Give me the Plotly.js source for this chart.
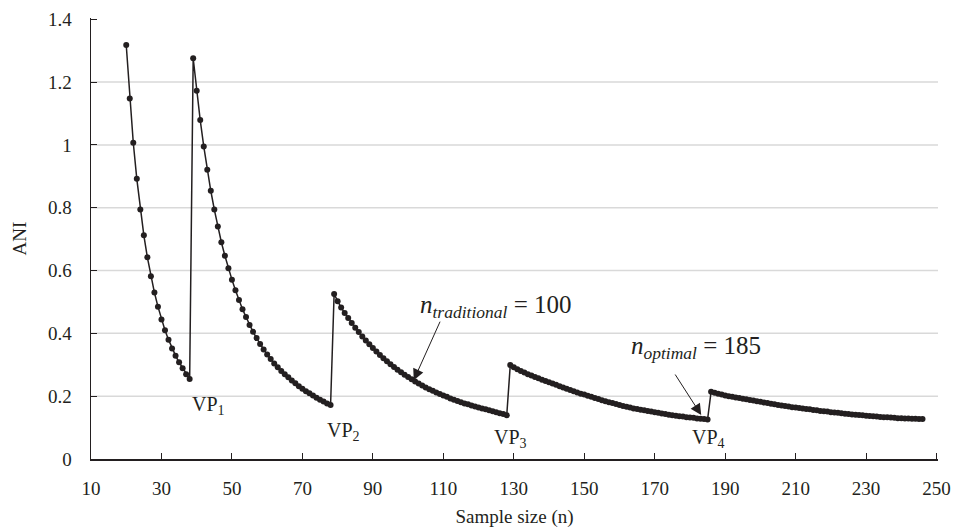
<!DOCTYPE html>
<html>
<head>
<meta charset="utf-8">
<script src="https://cdn.plot.ly/plotly-3.0.1.min.js"></script>
<style>html,body{margin:0;padding:0;background:#fff;}#chart{width:954px;height:528px;}</style>
</head>
<body>
<div id="chart"></div>
<script>
// ---- data ----
const seg1N = [20,21,22,23,24,25,26,27,28,29,30,31,32,33,34,35,36,37,38];
const seg1ANI = [1.318,1.148,1.007,0.892,0.794,0.712,0.642,0.582,0.530,0.485,0.444,0.410,0.380,0.352,0.329,0.308,0.289,0.270,0.255];

const seg2N = [39,40,41,42,43,44,45,46,47,48,49,50,51,52,53,54,55,56,57,58,59,60,61,62,63,64,65,66,67,68,69,70,71,72,73,74,75,76,77,78];
const seg2ANI = [1.276,1.172,1.079,0.995,0.921,0.854,0.794,0.740,0.690,0.647,0.607,0.571,0.537,0.506,0.477,0.452,0.427,0.405,0.385,0.366,0.349,0.333,0.318,0.304,0.292,0.280,0.270,0.260,0.250,0.241,0.232,0.224,0.216,0.209,0.202,0.195,0.189,0.183,0.177,0.172];

const seg3N = [79,80,81,82,83,84,85,86,87,88,89,90,91,92,93,94,95,96,97,98,99,100,101,102,103,104,105,106,107,108,109,110,111,112,113,114,115,116,117,118,119,120,121,122,123,124,125,126,127,128];
const seg3ANI = [0.525,0.502,0.482,0.465,0.449,0.433,0.418,0.404,0.390,0.377,0.365,0.353,0.342,0.331,0.321,0.311,0.302,0.293,0.284,0.276,0.268,0.261,0.254,0.247,0.240,0.234,0.228,0.222,0.217,0.212,0.207,0.202,0.198,0.193,0.189,0.185,0.181,0.177,0.174,0.170,0.167,0.164,0.161,0.158,0.155,0.152,0.149,0.146,0.143,0.139];

const seg4N = [129,130,131,132,133,134,135,136,137,138,139,140,141,142,143,144,145,146,147,148,149,150,151,152,153,154,155,156,157,158,159,160,161,162,163,164,165,166,167,168,169,170,171,172,173,174,175,176,177,178,179,180,181,182,183,184,185];
const seg4ANI = [0.299,0.292,0.286,0.280,0.275,0.270,0.266,0.261,0.257,0.252,0.248,0.244,0.240,0.236,0.232,0.228,0.224,0.220,0.216,0.212,0.208,0.205,0.201,0.198,0.194,0.191,0.187,0.184,0.181,0.178,0.175,0.172,0.169,0.166,0.164,0.161,0.159,0.157,0.155,0.153,0.151,0.149,0.147,0.145,0.143,0.141,0.139,0.138,0.136,0.135,0.133,0.132,0.131,0.129,0.128,0.127,0.126];

const seg5N = [186,187,188,189,190,191,192,193,194,195,196,197,198,199,200,201,202,203,204,205,206,207,208,209,210,211,212,213,214,215,216,217,218,219,220,221,222,223,224,225,226,227,228,229,230,231,232,233,234,235,236,237,238,239,240,241,242,243,244,245,246];
const seg5ANI = [0.214,0.211,0.208,0.205,0.202,0.200,0.198,0.196,0.194,0.192,0.190,0.188,0.186,0.184,0.182,0.180,0.178,0.176,0.174,0.172,0.170,0.169,0.167,0.165,0.164,0.162,0.161,0.159,0.158,0.156,0.155,0.153,0.152,0.151,0.149,0.148,0.147,0.146,0.144,0.143,0.142,0.141,0.140,0.139,0.138,0.137,0.136,0.135,0.134,0.133,0.133,0.132,0.131,0.130,0.130,0.129,0.129,0.128,0.128,0.127,0.127];

const xTickVals = [10,30,50,70,90,110,130,150,170,190,210,230,250];
const yTickVals = [0,0.2,0.4,0.6,0.8,1,1.2,1.4];
const gridVals = [0.2,0.4,0.6,0.8,1,1.2];

// labelled points: [text, x, y]
const vpLabels = [
  ['VP<sub>1</sub>', 38.1, 0.216],
  ['VP<sub>2</sub>', 76.4, 0.135],
  ['VP<sub>3</sub>', 123.8, 0.110],
  ['VP<sub>4</sub>', 179.9, 0.113]
];
const nTraditional = 100;
const nOptimal = 185;

// ---- chart ----
const FONT = '"Liberation Serif", "Times New Roman", Times, serif';
const INK = '#231f20';

const allN = [].concat(seg1N, seg2N, seg3N, seg4N, seg5N);
const allANI = [].concat(seg1ANI, seg2ANI, seg3ANI, seg4ANI, seg5ANI);

const trace = {
  x: allN, y: allANI, type: 'scatter', mode: 'lines+markers',
  line: {color: INK, width: 1.5},
  marker: {color: INK, size: 6},
  hoverinfo: 'x+y', showlegend: false
};

const annotations = vpLabels.map(v => ({
  text: v[0], x: v[1], y: v[2], xref: 'x', yref: 'y',
  xanchor: 'left', yanchor: 'top', showarrow: false,
  font: {family: FONT, size: 20, color: INK}
}));

annotations.push({
  text: '<i>n<sub>traditional</sub></i> = ' + nTraditional,
  x: 102.8, y: 0.540, xref: 'x', yref: 'y', xanchor: 'left', yanchor: 'top',
  showarrow: false, font: {family: FONT, size: 25, color: INK}
});
annotations.push({
  text: '<i>n<sub>optimal</sub></i> = ' + nOptimal,
  x: 162.6, y: 0.410, xref: 'x', yref: 'y', xanchor: 'left', yanchor: 'top',
  showarrow: false, font: {family: FONT, size: 25, color: INK}
});
// arrows
annotations.push({
  text: '', x: 101.6, y: 0.251, xref: 'x', yref: 'y', showarrow: true,
  ax: 27, ay: -60, arrowhead: 2, arrowsize: 2.2, arrowwidth: 1, arrowcolor: INK, standoff: 0
});
annotations.push({
  text: '', x: 183.2, y: 0.140, xref: 'x', yref: 'y', showarrow: true,
  ax: -27, ay: -42, arrowhead: 2, arrowsize: 2.2, arrowwidth: 1, arrowcolor: INK, standoff: 0
});

const shapes = gridVals.map(g => ({
  type: 'line', xref: 'paper', x0: 0, x1: 1, yref: 'y', y0: g, y1: g,
  layer: 'below', line: {color: '#d9d9d9', width: 1.5}
}));

const layout = {
  width: 954, height: 528,
  margin: {l: 91, r: 16, t: 18, b: 69, pad: 0},
  paper_bgcolor: '#fff', plot_bgcolor: '#fff',
  font: {family: FONT, size: 19, color: INK},
  xaxis: {
    range: [10, 250.4], tickmode: 'array', tickvals: xTickVals,
    ticks: 'inside', ticklen: 6, tickwidth: 1, tickcolor: INK,
    showline: true, linecolor: INK, linewidth: 1.5,
    showgrid: false, zeroline: false,
    ticklabelstandoff: 12,
    tickfont: {family: FONT, size: 19, color: INK},
    title: {text: 'Sample size (n)', font: {family: FONT, size: 19, color: INK}, standoff: 12}
  },
  yaxis: {
    range: [0, 1.404], tickmode: 'array', tickvals: yTickVals,
    ticks: 'inside', ticklen: 6, tickwidth: 1, tickcolor: INK,
    showline: true, linecolor: INK, linewidth: 1.5,
    showgrid: false, zeroline: false,
    ticklabelstandoff: 14,
    tickfont: {family: FONT, size: 19, color: INK},
    title: {text: 'ANI', font: {family: FONT, size: 19, color: INK}, standoff: 16}
  },
  annotations: annotations,
  shapes: shapes
};

Plotly.newPlot('chart', [trace], layout, {displayModeBar: false, staticPlot: true});
</script>
</body>
</html>
